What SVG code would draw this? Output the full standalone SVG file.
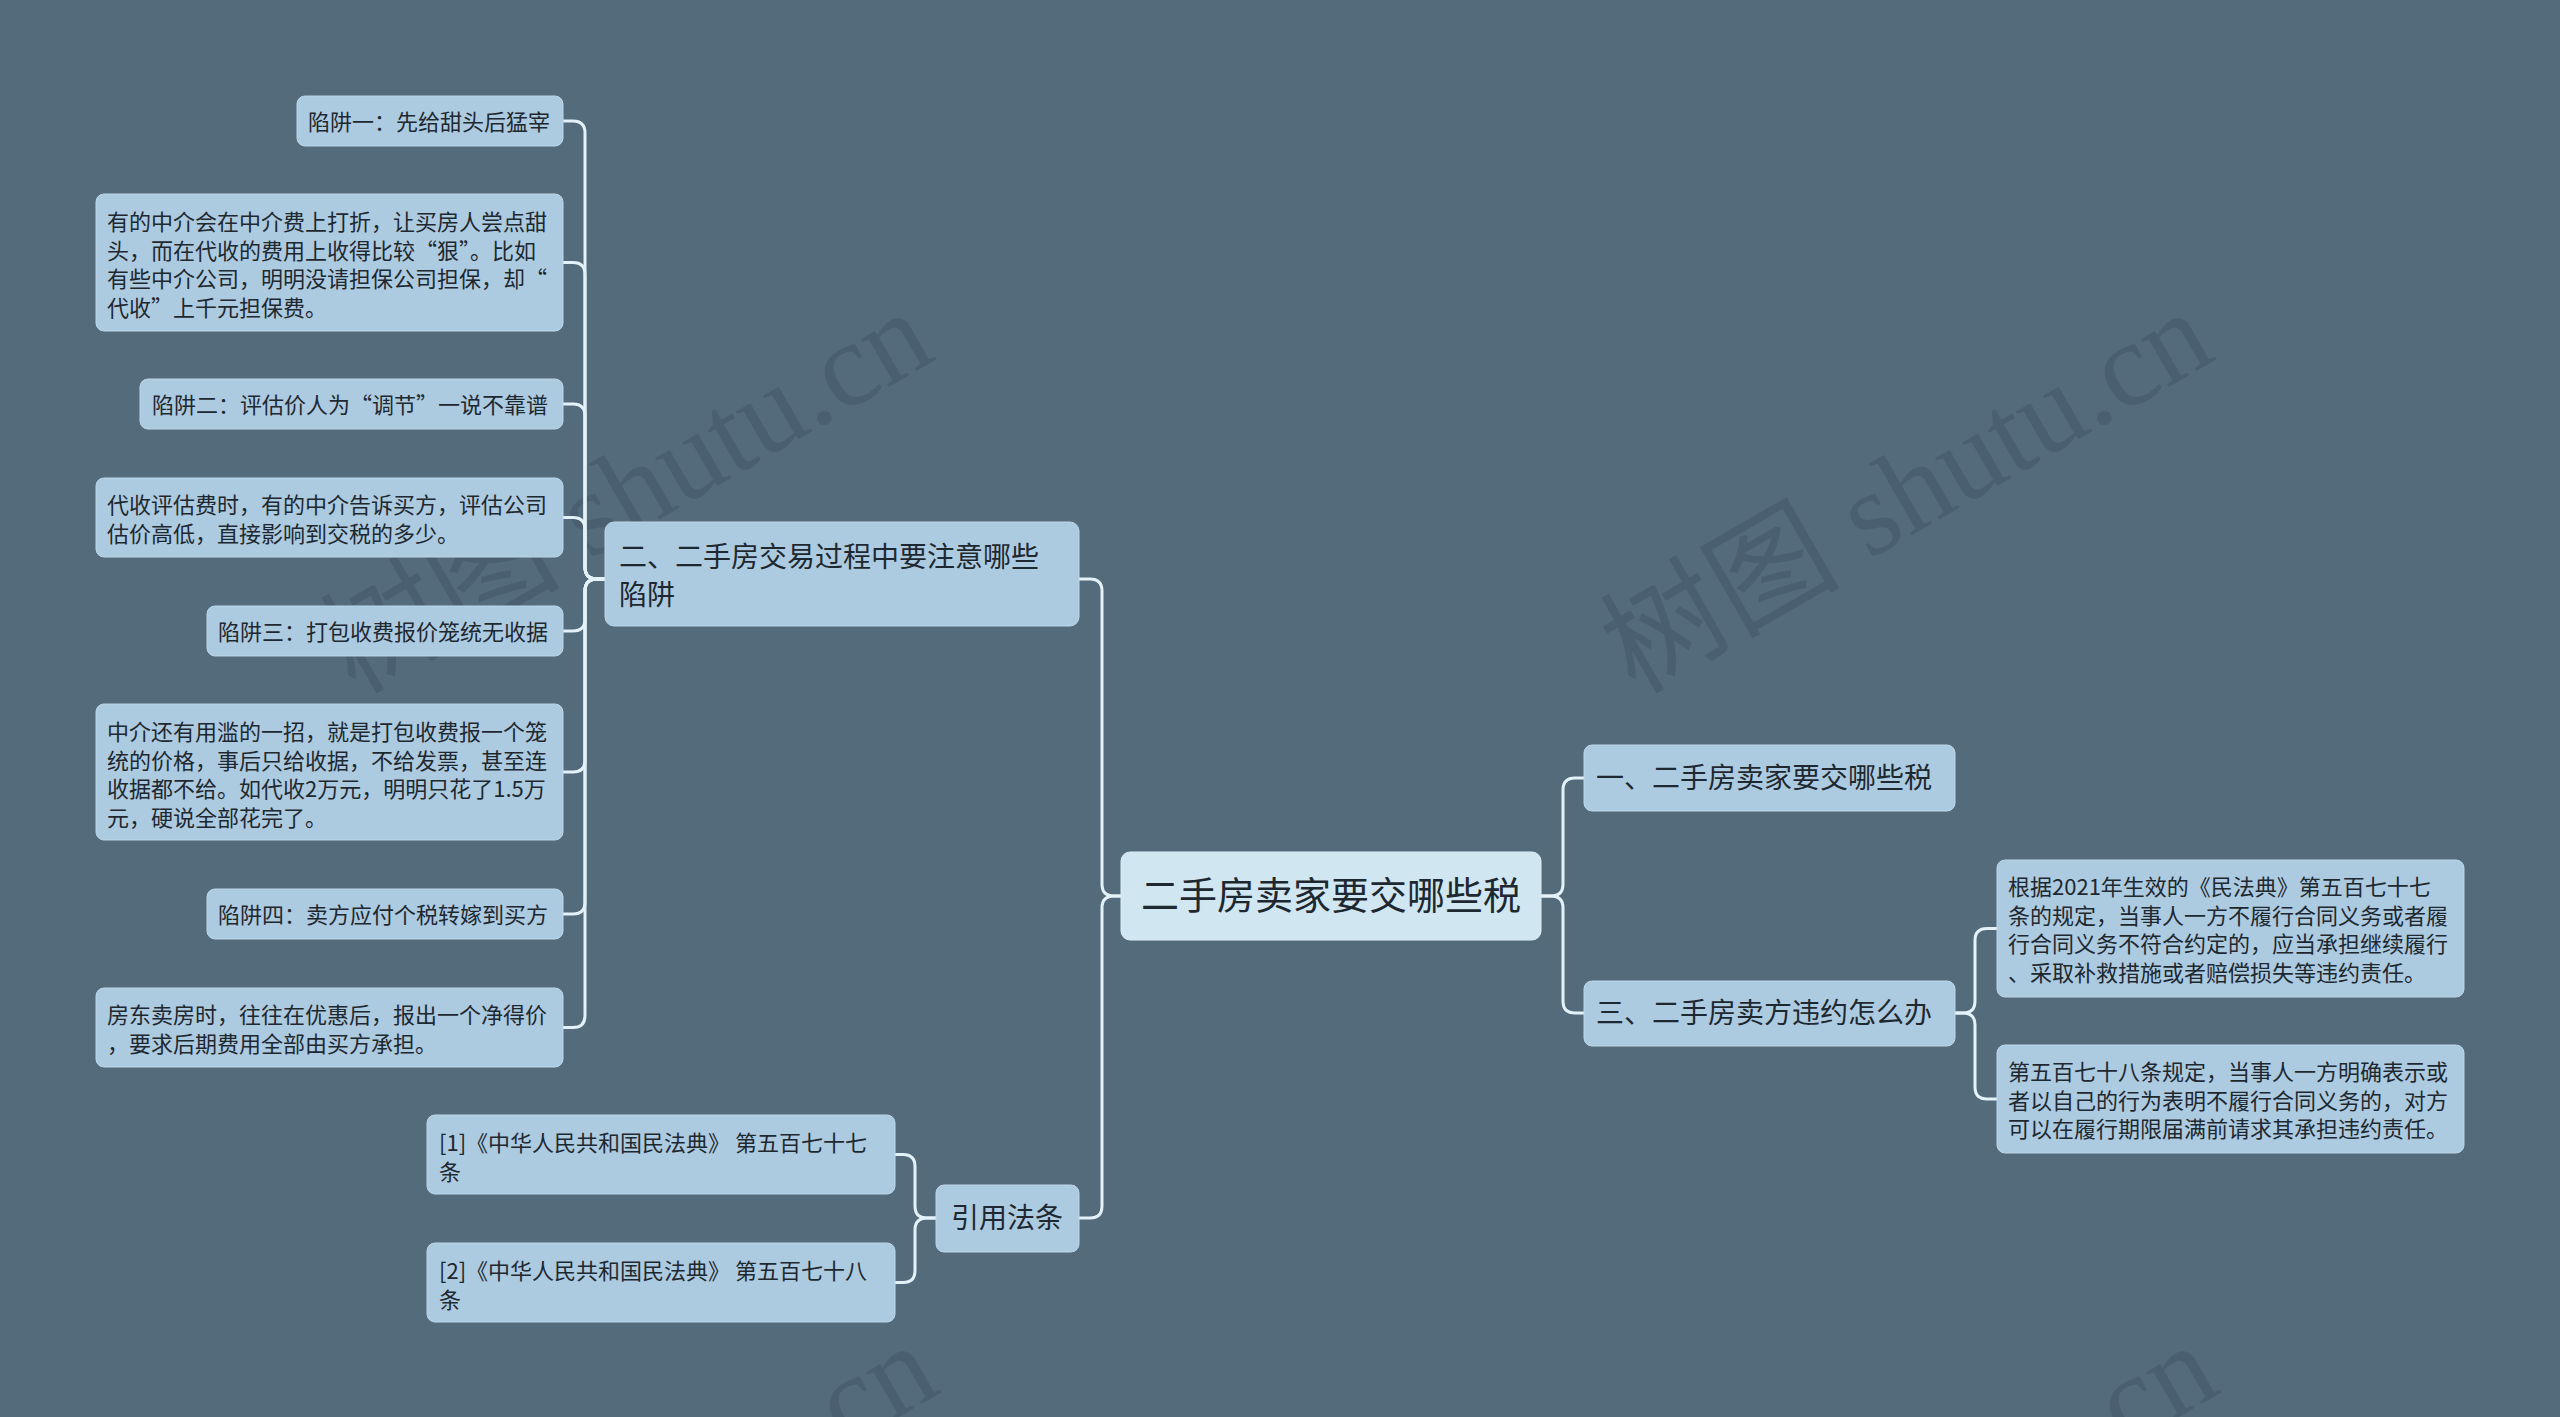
<svg xmlns="http://www.w3.org/2000/svg" width="2560" height="1417" viewBox="0 0 2560 1417">
<style>
.bg{fill:#546b7b}
.n rect{fill:#adcbe0;stroke:#bcd6e8;stroke-width:1}
.root rect{fill:#d0e6f1;stroke:#dcedf6;stroke-width:1}
text{font-family:"Noto Sans CJK SC","Noto Sans",sans-serif;fill:#1e2830}
.s{font-size:22px}
.m{font-size:28px}
.r{font-size:38px}
.wm{font-family:"Liberation Serif","Noto Sans CJK SC",serif;font-size:120px;fill:#3d5262;fill-opacity:0.45}
#connectors path{fill:none;stroke:#e3f1f8;stroke-width:3}
</style>
<rect class="bg" x="0" y="0" width="2560" height="1417"/>
<g id="watermarks">
<text class="wm" transform="translate(355,695) rotate(-30)">树图 shutu.cn</text>
<text class="wm" transform="translate(1635,695) rotate(-30)">树图 shutu.cn</text>
<text class="wm" transform="translate(360,1728) rotate(-30)">树图 shutu.cn</text>
<text class="wm" transform="translate(1640,1728) rotate(-30)">树图 shutu.cn</text>
</g>
<g id="connectors">
<path d="M605,579 H597 Q585,579 585,567 V133 Q585,121 573,121 H563"/>
<path d="M605,579 H597 Q585,579 585,567 V274.5 Q585,262.5 573,262.5 H563"/>
<path d="M605,579 H597 Q585,579 585,567 V416 Q585,404 573,404 H563"/>
<path d="M605,579 H597 Q585,579 585,567 V529.5 Q585,517.5 573,517.5 H563"/>
<path d="M605,579 H597 Q585,579 585,591 V619 Q585,631 573,631 H563"/>
<path d="M605,579 H597 Q585,579 585,591 V760 Q585,772 573,772 H563"/>
<path d="M605,579 H597 Q585,579 585,591 V902 Q585,914 573,914 H563"/>
<path d="M605,579 H597 Q585,579 585,591 V1015.5 Q585,1027.5 573,1027.5 H563"/>
<path d="M1121,896 H1114 Q1102,896 1102,884 V591 Q1102,579 1090,579 H1079"/>
<path d="M1121,896 H1114 Q1102,896 1102,908 V1206 Q1102,1218 1090,1218 H1079"/>
<path d="M1541,896 H1551 Q1563,896 1563,884 V790 Q1563,778 1575,778 H1584"/>
<path d="M1541,896 H1551 Q1563,896 1563,908 V1001 Q1563,1013 1575,1013 H1584"/>
<path d="M1954,1013 H1963 Q1975,1013 1975,1001 V940.5 Q1975,928.5 1987,928.5 H1997"/>
<path d="M1954,1013 H1963 Q1975,1013 1975,1025 V1087 Q1975,1099 1987,1099 H1997"/>
<path d="M936,1218 H927 Q915,1218 915,1206 V1166.5 Q915,1154.5 903,1154.5 H895"/>
<path d="M936,1218 H927 Q915,1218 915,1230 V1270.5 Q915,1282.5 903,1282.5 H895"/>
</g>
<g id="root" class="root">
<rect x="1121" y="852" width="420" height="88" rx="9"/>
<text class="r" x="1331" y="909" text-anchor="middle">二手房卖家要交哪些税</text>
</g>
<g id="n-er" class="n">
<rect x="605" y="522" width="474" height="104" rx="9"/>
<text class="m" x="619" y="567">二、二手房交易过程中要注意哪些</text>
<text class="m" x="619" y="605">陷阱</text>
</g>
<g id="n-xj1" class="n">
<rect x="297" y="96" width="266" height="50" rx="8"/>
<text class="s" x="308" y="130">陷阱一：先给甜头后猛宰</text>
</g>
<g id="n-xj1d" class="n">
<rect x="96" y="194" width="467" height="137" rx="8"/>
<text class="s" x="107" y="230">有的中介会在中介费上打折，让买房人尝点甜</text>
<text class="s" x="107" y="258.5">头，而在代收的费用上收得比较“狠”。比如</text>
<text class="s" x="107" y="287">有些中介公司，明明没请担保公司担保，却“</text>
<text class="s" x="107" y="315.5">代收”上千元担保费。</text>
</g>
<g id="n-xj2" class="n">
<rect x="140" y="379" width="423" height="50" rx="8"/>
<text class="s" x="152" y="413">陷阱二：评估价人为“调节”一说不靠谱</text>
</g>
<g id="n-xj2d" class="n">
<rect x="96" y="478" width="467" height="79" rx="8"/>
<text class="s" x="107" y="513">代收评估费时，有的中介告诉买方，评估公司</text>
<text class="s" x="107" y="541.5">估价高低，直接影响到交税的多少。</text>
</g>
<g id="n-xj3" class="n">
<rect x="207" y="606" width="356" height="50" rx="8"/>
<text class="s" x="218" y="640">陷阱三：打包收费报价笼统无收据</text>
</g>
<g id="n-xj3d" class="n">
<rect x="96" y="704" width="467" height="136" rx="8"/>
<text class="s" x="107" y="740">中介还有用滥的一招，就是打包收费报一个笼</text>
<text class="s" x="107" y="768.5">统的价格，事后只给收据，不给发票，甚至连</text>
<text class="s" x="107" y="797">收据都不给。如代收2万元，明明只花了1.5万</text>
<text class="s" x="107" y="825.5">元，硬说全部花完了。</text>
</g>
<g id="n-xj4" class="n">
<rect x="207" y="889" width="356" height="50" rx="8"/>
<text class="s" x="218" y="923">陷阱四：卖方应付个税转嫁到买方</text>
</g>
<g id="n-xj4d" class="n">
<rect x="96" y="988" width="467" height="79" rx="8"/>
<text class="s" x="107" y="1023">房东卖房时，往往在优惠后，报出一个净得价</text>
<text class="s" x="107" y="1051.5">，要求后期费用全部由买方承担。</text>
</g>
<g id="n-yy" class="n">
<rect x="936" y="1185" width="143" height="67" rx="8"/>
<text class="m" x="951" y="1228">引用法条</text>
</g>
<g id="n-yy1" class="n">
<rect x="427" y="1115" width="468" height="79" rx="8"/>
<text class="s" x="439" y="1151">[1]《中华人民共和国民法典》 第五百七十七</text>
<text class="s" x="439" y="1179.5">条</text>
</g>
<g id="n-yy2" class="n">
<rect x="427" y="1243" width="468" height="79" rx="8"/>
<text class="s" x="439" y="1279">[2]《中华人民共和国民法典》 第五百七十八</text>
<text class="s" x="439" y="1307.5">条</text>
</g>
<g id="n-yi" class="n">
<rect x="1584" y="745" width="371" height="66" rx="8"/>
<text class="m" x="1596" y="788">一、二手房卖家要交哪些税</text>
</g>
<g id="n-san" class="n">
<rect x="1584" y="981" width="371" height="65" rx="8"/>
<text class="m" x="1596" y="1023">三、二手房卖方违约怎么办</text>
</g>
<g id="n-san1" class="n">
<rect x="1997" y="860" width="467" height="137" rx="8"/>
<text class="s" x="2008" y="895">根据2021年生效的《民法典》第五百七十七</text>
<text class="s" x="2008" y="923.5">条的规定，当事人一方不履行合同义务或者履</text>
<text class="s" x="2008" y="952">行合同义务不符合约定的，应当承担继续履行</text>
<text class="s" x="2008" y="980.5">、采取补救措施或者赔偿损失等违约责任。</text>
</g>
<g id="n-san2" class="n">
<rect x="1997" y="1045" width="467" height="108" rx="8"/>
<text class="s" x="2008" y="1080">第五百七十八条规定，当事人一方明确表示或</text>
<text class="s" x="2008" y="1108.5">者以自己的行为表明不履行合同义务的，对方</text>
<text class="s" x="2008" y="1137">可以在履行期限届满前请求其承担违约责任。</text>
</g>
</svg>
